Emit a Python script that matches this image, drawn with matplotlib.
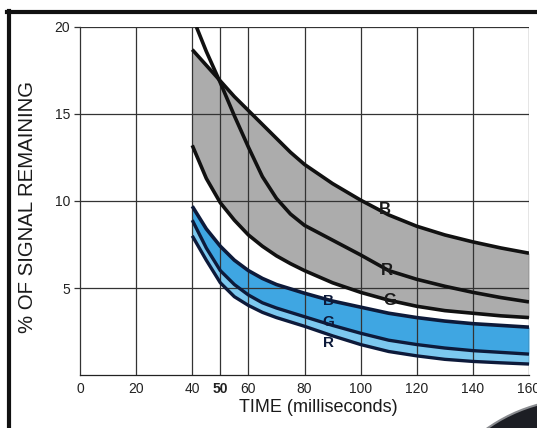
import matplotlib
matplotlib.use("Agg")
import matplotlib.pyplot as plt
from matplotlib.lines import Line2D
from matplotlib.patches import Ellipse

plt.rcParams['font.family'] = ['Liberation Sans', 'DejaVu Sans']

# ---- data ----
x_gray = [40, 45, 50, 55, 60, 65, 70, 75, 80, 90, 100, 110, 120, 130, 140, 150, 160]
gray_B = [18.7, 17.8, 16.9, 16.0, 15.2, 14.4, 13.6, 12.8, 12.1, 11.0, 10.05, 9.2, 8.55, 8.05, 7.65, 7.3, 7.0]
gray_G = [13.2, 11.3, 9.9, 8.9, 8.05, 7.4, 6.85, 6.4, 6.0, 5.3, 4.75, 4.3, 3.95, 3.7, 3.55, 3.4, 3.3]
x_grayR = [41.5, 45, 50, 55, 60, 65, 70, 75, 80, 90, 100, 110, 120, 130, 140, 150, 160]
gray_R = [20.0, 18.6, 16.8, 14.9, 13.1, 11.4, 10.15, 9.25, 8.6, 7.75, 6.9, 6.0, 5.5, 5.1, 4.75, 4.45, 4.2]

x_blue = [40, 45, 50, 55, 60, 65, 70, 75, 80, 90, 100, 110, 120, 130, 140, 150, 160]
blue_B = [9.7, 8.4, 7.4, 6.6, 6.0, 5.55, 5.2, 4.95, 4.7, 4.25, 3.9, 3.55, 3.3, 3.1, 2.95, 2.85, 2.75]
blue_G = [8.9, 7.3, 6.0, 5.2, 4.6, 4.15, 3.85, 3.6, 3.35, 2.85, 2.4, 2.0, 1.75, 1.55, 1.4, 1.3, 1.2]
blue_R = [8.0, 6.6, 5.3, 4.5, 4.0, 3.6, 3.3, 3.05, 2.8, 2.25, 1.75, 1.35, 1.1, 0.9, 0.78, 0.7, 0.63]

x_ticks = [0, 20, 40, 50, 60, 80, 100, 120, 140, 160]
x_ticklabels = ['0', '20', '40', '50', '60', '80', '100', '120', '140', '160']
y_ticks = [5, 10, 15, 20]
y_ticklabels = ['5', '10', '15', '20']

gray_labels = [('B', 108.7, 9.5), ('R', 109.4, 6.0), ('G', 110.5, 4.3)]
blue_labels = [('B', 88.4, 4.25), ('G', 88.4, 3.05), ('R', 88.4, 1.85)]

# ---- figure ----
fig = plt.figure(figsize=(5.37, 4.28), dpi=100)
ax = fig.add_axes([80/537, 1-375/428, 449/537, 348/428])
ax.set_xlim(0, 160)
ax.set_ylim(0, 20)

# fills
ax.fill_between(x_gray, gray_B, gray_G, color='#acacac', lw=0, zorder=1)
ax.fill_between(x_blue, blue_B, blue_G, color='#3fa6e2', lw=0, zorder=1)
ax.fill_between(x_blue, blue_G, blue_R, color='#7cc8ef', lw=0, zorder=1)

# grid
for xv in [20, 40, 50, 60, 80, 100, 120, 140, 160]:
    ax.axvline(xv, color='#333333', lw=0.9, zorder=1.5)
for yv in [5, 10, 15, 20]:
    ax.axhline(yv, color='#333333', lw=0.9, zorder=1.5)

# curves
ax.plot(x_gray, gray_B, color='#111111', lw=2.6, zorder=3, solid_capstyle='butt')
ax.plot(x_grayR, gray_R, color='#111111', lw=2.6, zorder=3, solid_capstyle='butt')
ax.plot(x_gray, gray_G, color='#111111', lw=2.6, zorder=3, solid_capstyle='butt')
ax.plot(x_blue, blue_B, color='#0d1a3a', lw=2.6, zorder=3, solid_capstyle='butt')
ax.plot(x_blue, blue_G, color='#0d1a3a', lw=2.4, zorder=3, solid_capstyle='butt')
ax.plot(x_blue, blue_R, color='#0d1a3a', lw=2.4, zorder=3, solid_capstyle='butt')

for t, xv, yv in gray_labels:
    ax.text(xv, yv, t, fontsize=12, fontweight='bold', color='#1a1a1a',
            ha='center', va='center', zorder=5)
for t, xv, yv in blue_labels:
    ax.text(xv, yv, t, fontsize=11, fontweight='bold', color='#0d1a3a',
            ha='center', va='center', zorder=5)

# axes styling
for s in ['top', 'right']:
    ax.spines[s].set_visible(False)
ax.spines['left'].set_color('#333333')
ax.spines['bottom'].set_color('#222222')
ax.spines['left'].set_linewidth(0.9)
ax.spines['bottom'].set_linewidth(0.9)

ax.set_xticks(x_ticks)
ax.set_xticklabels(x_ticklabels, fontsize=10, color='#222222')
for lbl in ax.get_xticklabels():
    if lbl.get_text() == '50':
        lbl.set_fontweight('bold')
ax.set_yticks(y_ticks)
ax.set_yticklabels(y_ticklabels, fontsize=10, color='#222222')
ax.tick_params(axis='x', length=0, pad=5)
ax.tick_params(axis='y', length=4, width=0.9, color='#333333', pad=3)

ax.set_xlabel('TIME (milliseconds)', fontsize=13, color='#1a1a1a')
ax.xaxis.set_label_coords(0.53, -0.07)
ax.set_ylabel('% OF SIGNAL REMAINING', fontsize=14.7, color='#1a1a1a')
ax.yaxis.set_label_coords(-0.096, 0.483)

# scan frame
fig.add_artist(Line2D([8.5/537, 8.5/537], [0, 1-11/428], color='#111111', lw=3.0,
                      transform=fig.transFigure))
fig.add_artist(Line2D([7/537, 1], [1-12/428, 1-12/428], color='#111111', lw=3.0,
                      transform=fig.transFigure))
fig.add_artist(Ellipse((580/537, 1-560/428), 2*161/537, 2*161/428,
                       facecolor='#1c1e24', edgecolor='#8a8c90', lw=1.5,
                       transform=fig.transFigure, zorder=10))

fig.savefig('out.png', dpi=100)
